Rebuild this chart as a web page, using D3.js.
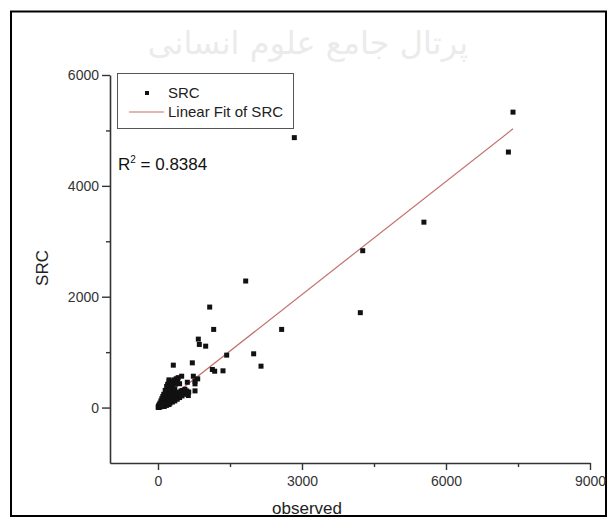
<!DOCTYPE html>
<html>
<head>
<meta charset="utf-8">
<script src="https://cdn.jsdelivr.net/npm/d3@7"></script>
<style>
    body { margin: 0; background: #fff; }
    text { font-family: "Liberation Sans", Arial, sans-serif; }
</style>
</head>
<body>
<svg id="chart" width="609" height="518"></svg>
<script>
const observed = [
    7396, 7300, 5540, 4265, 4215, 2840, 1827, 1077, 1160, 2576, 840, 861, 993, 715,
    1431, 1993, 2146, 1132, 1181, 1354, 493, 319, 229, 611, 632, 514, 500, 736, 827,
    771, 771, 771,
    5, 10, 15, 20, 25, 30, 35, 40, 45, 50, 55, 60, 65, 70, 75, 80, 85, 90, 95, 100,
    105, 110, 115, 120, 125, 130, 135, 140, 145, 150, 155, 160, 165, 170, 175, 180,
    185, 190, 195, 200, 210, 215, 220, 230, 235, 240, 250, 255, 260, 270, 280, 290,
    300, 310, 320, 330, 340, 350, 360, 380, 400, 420, 450, 480, 520, 560, 600, 640,
    200, 230, 260, 300, 340, 380, 420, 300, 360, 410, 450, 260, 180, 150, 120, 100,
    80, 60, 40, 20,
    100, 150, 200, 250, 300, 350, 400, 450, 500, 550, 600, 130, 180, 230,
    8, 12, 18, 28, 38, 48, 58, 68, 78, 88
];
const src = [
    5330, 4610, 3345, 2830, 1712, 4870, 2283, 1813, 1410, 1410, 1235, 1139, 1108, 807,
    946, 970, 747, 687, 656, 663, 566, 765, 500, 457, 217, 307, 250, 566, 518,
    476, 428, 301,
    3, 12, 8, 25, 15, 40, 20, 30, 55, 22, 35, 70, 28, 45, 90, 35, 60, 110, 40, 75,
    130, 48, 90, 150, 55, 100, 170, 60, 120, 200, 70, 130, 230, 80, 145, 260,
    90, 160, 300, 95, 180, 330, 105, 200, 360, 115, 220, 400, 125, 240, 140, 260,
    150, 290, 160, 310, 175, 330, 190, 210, 230, 260, 280, 300, 310, 330, 300, 280,
    420, 470, 450, 480, 500, 520, 540, 390, 420, 460, 430, 340, 380, 310, 240, 200,
    160, 120, 80, 45,
    30, 45, 60, 80, 100, 120, 150, 180, 210, 240, 260, 20, 40, 55,
    20, 5, 15, 10, 48, 15, 50, 18, 65, 25
];

// linear fit drawn in the figure
const fitX = [0, 7396];
const fitSlope = 0.68;
const fitIntercept = 0;

const xTicks = [0, 3000, 6000, 9000];
const xMinorTicks = [1500, 4500, 7500];
const yTicks = [0, 2000, 4000, 6000];
const yMinorTicks = [1000, 3000, 5000];

const legendLabels = ["SRC", "Linear Fit of SRC"];
const r2Value = "0.8384";
const watermark = "پرتال جامع علوم انسانی";

/** Class drawing the scatter plot with its fit line. */
class ScatterChart {
    constructor() {
        this.svg = d3.select("#chart");
        this.x = d3.scaleLinear().domain([-1000, 9000]).range([110, 590]);
        this.y = d3.scaleLinear().domain([-1000, 6000]).range([463, 75]);
    }

    /**
     * Faint watermark and outer frame
     */
    drawBackground() {
        this.svg.append("text")
            .attr("x", 308)
            .attr("y", 54)
            .attr("text-anchor", "middle")
            .style("font-family", "'DejaVu Sans', sans-serif")
            .style("font-size", "32px")
            .attr("fill", "#ebebeb")
            .text(watermark);

        this.svg.append("rect")
            .attr("x", 11)
            .attr("y", 11.5)
            .attr("width", 595)
            .attr("height", 504.5)
            .attr("fill", "none")
            .attr("stroke", "#000")
            .attr("stroke-width", 2);
    }

    /**
     * Axes with major and minor ticks
     */
    drawAxes() {
        let x = this.x, y = this.y;

        let xAxis = this.svg.append("g")
            .attr("transform", "translate(0," + y(-1000) + ")")
            .call(d3.axisBottom(x).tickValues(xTicks).tickSize(7).tickSizeOuter(0).tickFormat(d3.format("d")));
        this.svg.append("g")
            .attr("transform", "translate(0," + y(-1000) + ")")
            .call(d3.axisBottom(x).tickValues(xMinorTicks).tickSize(4).tickSizeOuter(0).tickFormat(""))
            .select(".domain").remove();

        let yAxis = this.svg.append("g")
            .attr("transform", "translate(" + x(-1000) + ",0)")
            .call(d3.axisLeft(y).tickValues(yTicks).tickSize(8).tickSizeOuter(0).tickFormat(d3.format("d")));
        this.svg.append("g")
            .attr("transform", "translate(" + x(-1000) + ",0)")
            .call(d3.axisLeft(y).tickValues(yMinorTicks).tickSize(4).tickSizeOuter(0).tickFormat(""))
            .select(".domain").remove();

        this.svg.selectAll(".domain")
            .attr("stroke", "#333")
            .attr("stroke-width", 1.6);
        this.svg.selectAll(".tick line")
            .attr("stroke", "#333")
            .attr("stroke-width", 1.4);
        xAxis.selectAll("text")
            .style("font-size", "14px")
            .attr("fill", "#333")
            .attr("dy", "0.95em");
        yAxis.selectAll("text")
            .style("font-size", "14px")
            .attr("fill", "#333")
            .attr("x", -11);

        // axis titles
        this.svg.append("text")
            .attr("x", 307)
            .attr("y", 514)
            .attr("text-anchor", "middle")
            .style("font-size", "17px")
            .attr("fill", "#222")
            .text("observed");
        this.svg.append("text")
            .attr("transform", "translate(48,268) rotate(-90)")
            .attr("text-anchor", "middle")
            .style("font-size", "17px")
            .attr("fill", "#222")
            .text("SRC");
    }

    /**
     * Points and the fitted line
     */
    drawData() {
        let x = this.x, y = this.y;
        let pts = observed.map((d, i) => [d, src[i]]);

        this.svg.append("line")
            .attr("x1", x(fitX[0]))
            .attr("y1", y(fitIntercept + fitSlope * fitX[0]))
            .attr("x2", x(fitX[1]))
            .attr("y2", y(fitIntercept + fitSlope * fitX[1]))
            .attr("stroke", "#c2716b")
            .attr("stroke-width", 1.2);

        this.svg.append("g")
            .selectAll("rect")
            .data(pts)
            .enter()
            .append("rect")
            .attr("x", d => x(d[0]) - 2.5)
            .attr("y", d => y(d[1]) - 2.5)
            .attr("width", 5)
            .attr("height", 5)
            .attr("fill", "#111");
    }

    /**
     * Legend box and R squared label
     */
    drawLegend() {
        let g = this.svg.append("g");
        g.append("rect")
            .attr("x", 117.5)
            .attr("y", 73.5)
            .attr("width", 176)
            .attr("height", 55)
            .attr("fill", "#fff")
            .attr("stroke", "#555")
            .attr("stroke-width", 1);

        g.append("rect")
            .attr("x", 145)
            .attr("y", 91)
            .attr("width", 4)
            .attr("height", 4)
            .attr("fill", "#111");
        g.append("line")
            .attr("x1", 129)
            .attr("x2", 164)
            .attr("y1", 112)
            .attr("y2", 112)
            .attr("stroke", "#c2716b")
            .attr("stroke-width", 1.2);

        g.selectAll("text.lab")
            .data(legendLabels)
            .enter()
            .append("text")
            .classed("lab", true)
            .attr("x", 168)
            .attr("y", (d, i) => 98 + i * 19)
            .style("font-size", "15px")
            .attr("fill", "#222")
            .text(d => d);

        let r2 = this.svg.append("text")
            .attr("x", 118)
            .attr("y", 170)
            .style("font-size", "17px")
            .attr("fill", "#111");
        r2.append("tspan").text("R");
        r2.append("tspan")
            .attr("dy", -7)
            .style("font-size", "10px")
            .text("2");
        r2.append("tspan")
            .attr("dy", 7)
            .text(" = " + r2Value);
    }
}

let chart = new ScatterChart();
chart.drawBackground();
chart.drawAxes();
chart.drawData();
chart.drawLegend();
</script>
</body>
</html>
